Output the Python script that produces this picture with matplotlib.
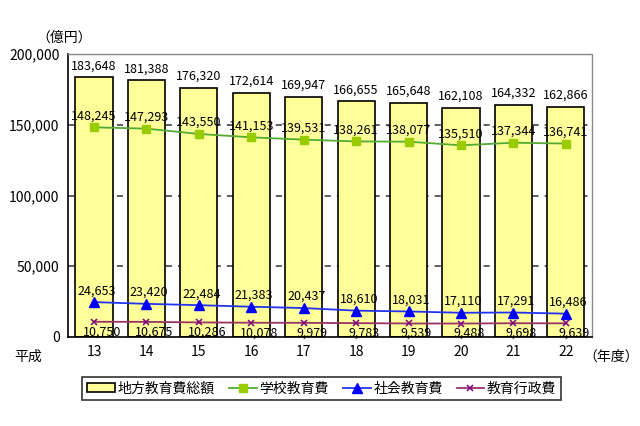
import matplotlib
matplotlib.use("Agg")
import matplotlib.pyplot as plt
import numpy as np

plt.rcParams['font.family'] = ['Noto Sans CJK JP', 'DejaVu Sans']

years = ['13', '14', '15', '16', '17', '18', '19', '20', '21', '22']
total = [183648, 181388, 176320, 172614, 169947, 166655, 165648, 162108, 164332, 162866]
school = [148245, 147293, 143550, 141153, 139531, 138261, 138077, 135510, 137344, 136741]
social = [24653, 23420, 22484, 21383, 20437, 18610, 18031, 17110, 17291, 16486]
admin = [10750, 10675, 10286, 10078, 9979, 9783, 9539, 9488, 9698, 9639]

fig = plt.figure(figsize=(6.4, 4.26), dpi=100)
ax = fig.add_axes([0.106, 0.209, 0.819, 0.664])

x = np.arange(len(years))
bars = ax.bar(x, total, width=0.71, color='#FFFF99', edgecolor='black', linewidth=1.2,
              label='地方教育費総額', zorder=2)
l1, = ax.plot(x, school, color='#55AA33', lw=1.3, marker='s', ms=6, mfc='#99CC00', mec='#99CC00',
              label='学校教育費', zorder=3)
l2, = ax.plot(x, social, color='#2233EE', lw=1.3, marker='^', ms=7, mfc='#0000FF', mec='#0000FF',
              label='社会教育費', zorder=3)
l3, = ax.plot(x, admin, color='#993366', lw=1.3, marker='x', ms=5, mec='#800080', mew=1.1,
              label='教育行政費', zorder=3)

fs = 9
for i in range(len(years)):
    ax.text(x[i], total[i] + 3500, f'{total[i]:,}', ha='center', va='bottom', fontsize=fs)
    ax.text(x[i], school[i] + 3500, f'{school[i]:,}', ha='center', va='bottom', fontsize=fs)
    ax.text(x[i] + 0.05, social[i] + 3500, f'{social[i]:,}', ha='center', va='bottom', fontsize=fs)
    ax.text(x[i] + 0.15, admin[i] - 2500, f'{admin[i]:,}', ha='center', va='top', fontsize=fs)

ax.set_ylim(0, 200000)
ax.set_xlim(-0.5, len(years) - 0.5)
ax.set_yticks(range(0, 200001, 50000))
ax.set_yticklabels([f'{v:,}' for v in range(0, 200001, 50000)], fontsize=10)
ax.set_xticks(x)
ax.set_xticklabels(years, fontsize=10)
ax.tick_params(axis='both', length=0, pad=6)
for v in [50000, 100000, 150000]:
    ax.axhline(v, color='#333333', lw=1.1, ls=(0, (4, 4)), zorder=1)

ax.spines['left'].set_linewidth(1.2)
ax.spines['bottom'].set_linewidth(1.2)
for s in ['top', 'right']:
    ax.spines[s].set_color('#888888')
    ax.spines[s].set_linestyle((0, (2, 1)))
    ax.spines[s].set_linewidth(1.0)

fig.text(0.044, 0.163, '平成', fontsize=10, ha='center', va='center')
fig.text(0.955, 0.163, '（年度）', fontsize=10, ha='center', va='center')
fig.text(0.1, 0.912, '（億円）', fontsize=10, ha='center', va='center')

leg = fig.legend([bars, l1, l2, l3], ['地方教育費総額', '学校教育費', '社会教育費', '教育行政費'],
                 loc='center', bbox_to_anchor=(0.503, 0.088), ncol=4, fontsize=10,
                 frameon=True, fancybox=False, edgecolor='black', handlelength=2.0,
                 handleheight=0.6, handletextpad=0.2, columnspacing=1.0, borderpad=0.35)
leg.get_frame().set_linewidth(1.2)

fig.savefig('out.png', dpi=100)
